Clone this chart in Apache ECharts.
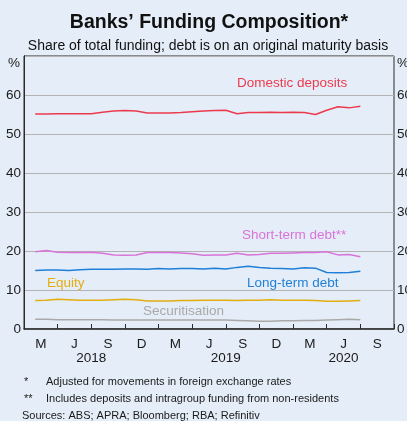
<!DOCTYPE html>
<html>
<head>
<meta charset="utf-8">
<script src="https://cdn.jsdelivr.net/npm/echarts@6/dist/echarts.min.js"></script>
<style>
  html, body { margin: 0; padding: 0; background: #e5eef8; overflow: hidden; }
  #chart { width: 407px; height: 421px; }
</style>
</head>
<body>
<div id="chart"></div>
<script>
// Month index: 0 = start of Jan 2018; each value is plotted at the end of its month
var months = [1,2,3,4,5,6,7,8,9,10,11,12,13,14,15,16,17,18,19,20,21,22,23,24,25,26,27,28,29,30];

var domesticDeposits = [55.1,55.1,55.2,55.2,55.2,55.2,55.6,55.9,56.0,55.9,55.4,55.4,55.4,55.5,55.7,55.9,56.0,56.1,55.2,55.5,55.5,55.6,55.5,55.6,55.5,55.0,56.1,57.0,56.7,57.1];
var shortTermDebt    = [19.8,20.1,19.7,19.6,19.6,19.7,19.4,19.0,18.9,19.0,19.6,19.6,19.6,19.5,19.3,18.9,19.0,19.0,19.4,19.0,19.1,19.4,19.4,19.5,19.6,19.6,19.8,19.0,19.1,18.5];
var longTermDebt     = [15.0,15.1,15.1,15.0,15.2,15.3,15.3,15.3,15.4,15.4,15.3,15.5,15.4,15.5,15.5,15.4,15.6,15.4,15.8,16.1,15.8,15.6,15.5,15.4,15.7,15.6,14.5,14.4,14.5,14.8];
var equity           = [7.3,7.4,7.6,7.5,7.4,7.4,7.4,7.5,7.6,7.5,7.2,7.2,7.2,7.3,7.3,7.4,7.4,7.4,7.3,7.4,7.4,7.5,7.4,7.4,7.4,7.3,7.1,7.1,7.2,7.3];
var securitisation   = [2.5,2.5,2.4,2.4,2.4,2.4,2.4,2.3,2.3,2.3,2.3,2.3,2.3,2.3,2.3,2.3,2.3,2.3,2.2,2.1,2.0,2.0,2.1,2.1,2.2,2.2,2.3,2.4,2.5,2.4];

// Quarter labels sit mid-quarter, ticks on quarter boundaries
var quarterLabels = ['M','J','S','D','M','J','S','D','M','J','S'];
var quarterCentres = [1.5,4.5,7.5,10.5,13.5,16.5,19.5,22.5,25.5,28.5,31.5];
var quarterBounds = [0,3,6,9,12,15,18,21,24,27,30,33];
var yearLabels = ['2018','2019','2020'];
var yearCentres = [6,18,28.5];
var yTicks = [0,10,20,30,40,50,60];

var FONT = '"Liberation Sans", Arial, sans-serif';
var C = { red: '#ec3a4d', pink: '#d873d8', blue: '#1f7fd8', gold: '#e2ad0e', grey: '#a9a9a9' };

function pairs(vals) { return vals.map(function (v, i) { return [months[i], v]; }); }
function line(name, vals, color) {
  return { name: name, type: 'line', data: pairs(vals), showSymbol: false, smooth: false,
           lineStyle: { color: color, width: 1.5 }, animation: false, z: 3 };
}
function label(text, x, y, size, color) {
  return { type: 'text', x: x, y: y, style: { text: text, font: size + 'px ' + FONT, fill: color, verticalAlign: 'middle' } };
}

var chart = echarts.init(document.getElementById('chart'), null, { renderer: 'canvas' });
chart.setOption({
  backgroundColor: '#e5eef8',
  animation: false,
  textStyle: { fontFamily: FONT },
  grid: { left: 24, right: 13, top: 56, bottom: 92, outerBoundsMode: 'none', containLabel: false,
          show: true, borderColor: '#2b2b2b', borderWidth: 1, backgroundColor: 'transparent' },
  xAxis: [
    { type: 'value', min: 0, max: 33, position: 'bottom',
      axisLine: { show: true, lineStyle: { color: '#2b2b2b', width: 1.5 } },
      axisTick: { show: true, inside: true, length: 5, customValues: quarterBounds, lineStyle: { color: '#2b2b2b' } },
      axisLabel: { customValues: quarterCentres, margin: 8, fontSize: 13.5, color: '#1a1a1a', fontFamily: FONT,
        formatter: function (v) { var i = quarterCentres.indexOf(v); return i >= 0 ? quarterLabels[i] : ''; } },
      splitLine: { show: false } },
    { type: 'value', min: 0, max: 33, position: 'bottom', offset: 22,
      axisLine: { show: false }, axisTick: { show: false }, splitLine: { show: false },
      axisLabel: { customValues: yearCentres, margin: 0, fontSize: 13.5, color: '#1a1a1a', fontFamily: FONT,
        formatter: function (v) { var i = yearCentres.indexOf(v); return i >= 0 ? yearLabels[i] : ''; } } }
  ],
  yAxis: [
    { type: 'value', min: 0, max: 70, interval: 10, position: 'left',
      axisLine: { show: true, lineStyle: { color: '#2b2b2b' } }, axisTick: { show: false },
      axisLabel: { customValues: yTicks, margin: 3, fontSize: 13.5, color: '#1a1a1a', fontFamily: FONT },
      splitLine: { show: true, lineStyle: { color: '#b3b3b3', width: 1 } } },
    { type: 'value', min: 0, max: 70, interval: 10, position: 'right',
      axisLine: { show: true, lineStyle: { color: '#2b2b2b' } }, axisTick: { show: false },
      axisLabel: { customValues: yTicks, margin: 3, fontSize: 13.5, color: '#1a1a1a', fontFamily: FONT },
      splitLine: { show: false } }
  ],
  series: [
    line('Securitisation', securitisation, C.grey),
    line('Equity', equity, C.gold),
    line('Long-term debt', longTermDebt, C.blue),
    line('Short-term debt', shortTermDebt, C.pink),
    line('Domestic deposits', domesticDeposits, C.red)
  ],
  graphic: [
    { type: 'text', x: 209, y: 23, style: { text: 'Banks’ Funding Composition*', font: 'bold 19.5px ' + FONT, fill: '#111', align: 'center', verticalAlign: 'middle' } },
    { type: 'text', x: 208, y: 46, style: { text: 'Share of total funding; debt is on an original maturity basis', font: '14px ' + FONT, fill: '#111', align: 'center', verticalAlign: 'middle' } },
    label('%', 8, 63, 13.5, '#1a1a1a'),
    label('%', 397, 63, 13.5, '#1a1a1a'),
    label('Domestic deposits', 237, 83, 13.5, C.red),
    label('Short-term debt**', 242, 235, 13.5, C.pink),
    label('Long-term debt', 247, 283, 13.5, C.blue),
    label('Equity', 47, 283, 13.5, C.gold),
    label('Securitisation', 143, 311, 13.5, C.grey),
    label('*', 24, 382, 11, '#1a1a1a'),
    label('Adjusted for movements in foreign exchange rates', 46, 382, 11, '#1a1a1a'),
    label('**', 24, 399, 11, '#1a1a1a'),
    label('Includes deposits and intragroup funding from non-residents', 46, 399, 11, '#1a1a1a'),
    label('Sources: ABS; APRA; Bloomberg; RBA; Refinitiv', 22, 416, 11, '#1a1a1a')
  ]
});
</script>
</body>
</html>
